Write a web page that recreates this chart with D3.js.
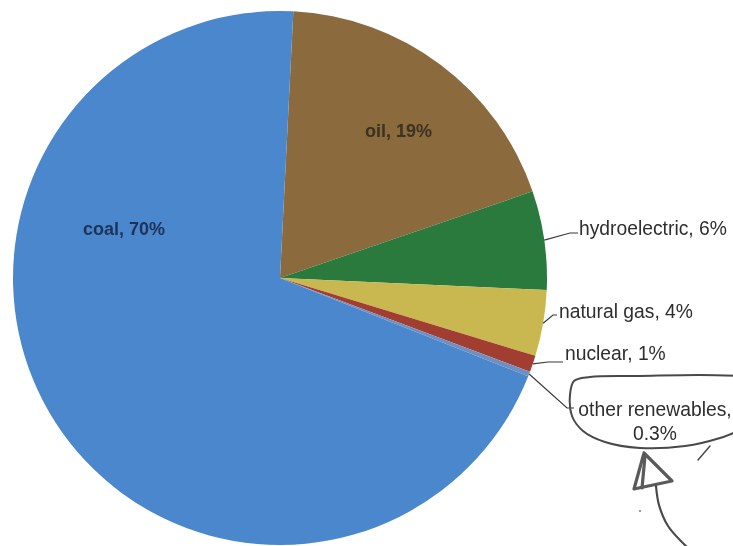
<!DOCTYPE html>
<html>
<head>
<meta charset="utf-8">
<script src="https://cdn.jsdelivr.net/npm/d3@7"></script>
<style>
  html, body { margin: 0; padding: 0; background: #fff; }
  svg { display: block; }
</style>
</head>
<body>
<svg id="chart" width="733" height="546"></svg>
<script>
// Energy sources, share of total (%)
const sources = ["oil", "hydroelectric", "natural gas", "nuclear", "other renewables", "coal"];
const shares  = [19, 6, 4, 1, 0.3, 70];
const shareLabels = ["19%", "6%", "4%", "1%", "0.3%", "70%"];
const sliceColors = ["#8b6b3e", "#2b7a3d", "#c8b850", "#a23d31", "#6f8fc0", "#4b87cc"];

const W = 733, H = 546;
const cx = 280, cy = 278, R = 267;

const svg = d3.select("#chart");

const defs = svg.append("defs");
defs.append("filter").attr("id", "soft")
  .append("feGaussianBlur").attr("stdDeviation", 0.6);
defs.append("filter").attr("id", "pencil")
  .append("feGaussianBlur").attr("stdDeviation", 0.7);

const data = sources.map((s, i) => ({ name: s, value: shares[i], label: shareLabels[i], color: sliceColors[i] }));

const pie = d3.pie().sort(null).value(d => d.value).startAngle(0.05).endAngle(0.05 + 2 * Math.PI);
const arcs = pie(data);
const arc = d3.arc().innerRadius(0).outerRadius(R);
const edge = d3.arc().innerRadius(R).outerRadius(R);

const g = svg.append("g").attr("transform", `translate(${cx},${cy})`).attr("filter", "url(#soft)");

g.selectAll("path.slice")
  .data(arcs)
  .join("path")
  .attr("class", "slice")
  .attr("d", arc)
  .attr("fill", d => d.data.color);

// labels placed inside the two large slices
const inside = { "coal": { dx: -197, dy: -43, fill: "#1e3358" }, "oil": { dx: 85, dy: -141, fill: "#3b3020" } };
g.selectAll("text.inside")
  .data(arcs.filter(d => inside[d.data.name]))
  .join("text")
  .attr("class", "inside")
  .attr("x", d => inside[d.data.name].dx)
  .attr("y", d => inside[d.data.name].dy)
  .attr("font-family", "Liberation Sans, Arial, sans-serif")
  .attr("font-size", 18)
  .attr("font-weight", "bold")
  .attr("fill", d => inside[d.data.name].fill)
  .text(d => `${d.data.name}, ${d.data.label}`);

// outside labels with leader lines
const outside = {
  "hydroelectric":    { tx: 579, ty: 235, elbow: [570, 233], end: [578, 233] },
  "natural gas":      { tx: 559, ty: 318, elbow: [553, 315], end: [557, 315] },
  "nuclear":          { tx: 565, ty: 360, elbow: [548, 362], end: [563, 362] },
  "other renewables": { tx: 655, ty: 416, elbow: [567, 408], end: [574, 408] }
};

const out = svg.append("g").attr("filter", "url(#soft)");
arcs.filter(d => outside[d.data.name]).forEach(d => {
  const o = outside[d.data.name];
  const [ex, ey] = edge.centroid(d);
  out.append("path")
    .attr("d", d3.line()([[cx + ex, cy + ey], o.elbow, o.end]))
    .attr("fill", "none")
    .attr("stroke", "#3a3a3a")
    .attr("stroke-width", 1.2);
  const t = out.append("text")
    .attr("font-family", "Liberation Sans, Arial, sans-serif")
    .attr("font-size", 19.3)
    .attr("fill", "#2e2e2e");
  if (d.data.name === "other renewables") {
    t.attr("text-anchor", "middle");
    t.append("tspan").attr("x", o.tx).attr("y", o.ty).text(`${d.data.name},`);
    t.append("tspan").attr("x", o.tx).attr("y", o.ty + 24).text(d.data.label);
  } else {
    t.attr("x", o.tx).attr("y", o.ty).text(`${d.data.name}, ${d.data.label}`);
  }
});

// pencil marks: loop around the smallest label and an arrow pointing at it
const pen = svg.append("g")
  .attr("fill", "none")
  .attr("stroke", "#4a4a4a")
  .attr("stroke-linecap", "round")
  .attr("stroke-linejoin", "round")
  .attr("filter", "url(#pencil)");

const curve = d3.line().curve(d3.curveCatmullRom.alpha(0.5));
pen.append("path")
  .attr("stroke-width", 2)
  .attr("d", curve([[740, 376], [700, 375], [640, 376], [590, 377], [574, 381], [570, 395], [572, 416], [583, 431], [605, 442], [640, 448], [685, 446], [720, 438], [740, 430]]));
pen.append("path")
  .attr("stroke-width", 1.5)
  .attr("d", d3.line()([[710, 446], [698, 460]]));

// arrow head
pen.append("path")
  .attr("stroke-width", 3.2)
  .attr("stroke", "#5a5a5a")
  .attr("d", d3.line()([[644, 453], [634, 489], [672, 481], [644, 453]]));
pen.append("path")
  .attr("stroke-width", 3.2)
  .attr("stroke", "#5a5a5a")
  .attr("d", d3.line()([[645, 456], [642, 488]]));
// arrow shaft
pen.append("path")
  .attr("stroke-width", 2.2)
  .attr("d", curve([[656, 486], [659, 505], [668, 526], [688, 548]]));
pen.append("circle").attr("cx", 640).attr("cy", 511).attr("r", 1).attr("fill", "#777").attr("stroke", "none");
</script>
</body>
</html>
